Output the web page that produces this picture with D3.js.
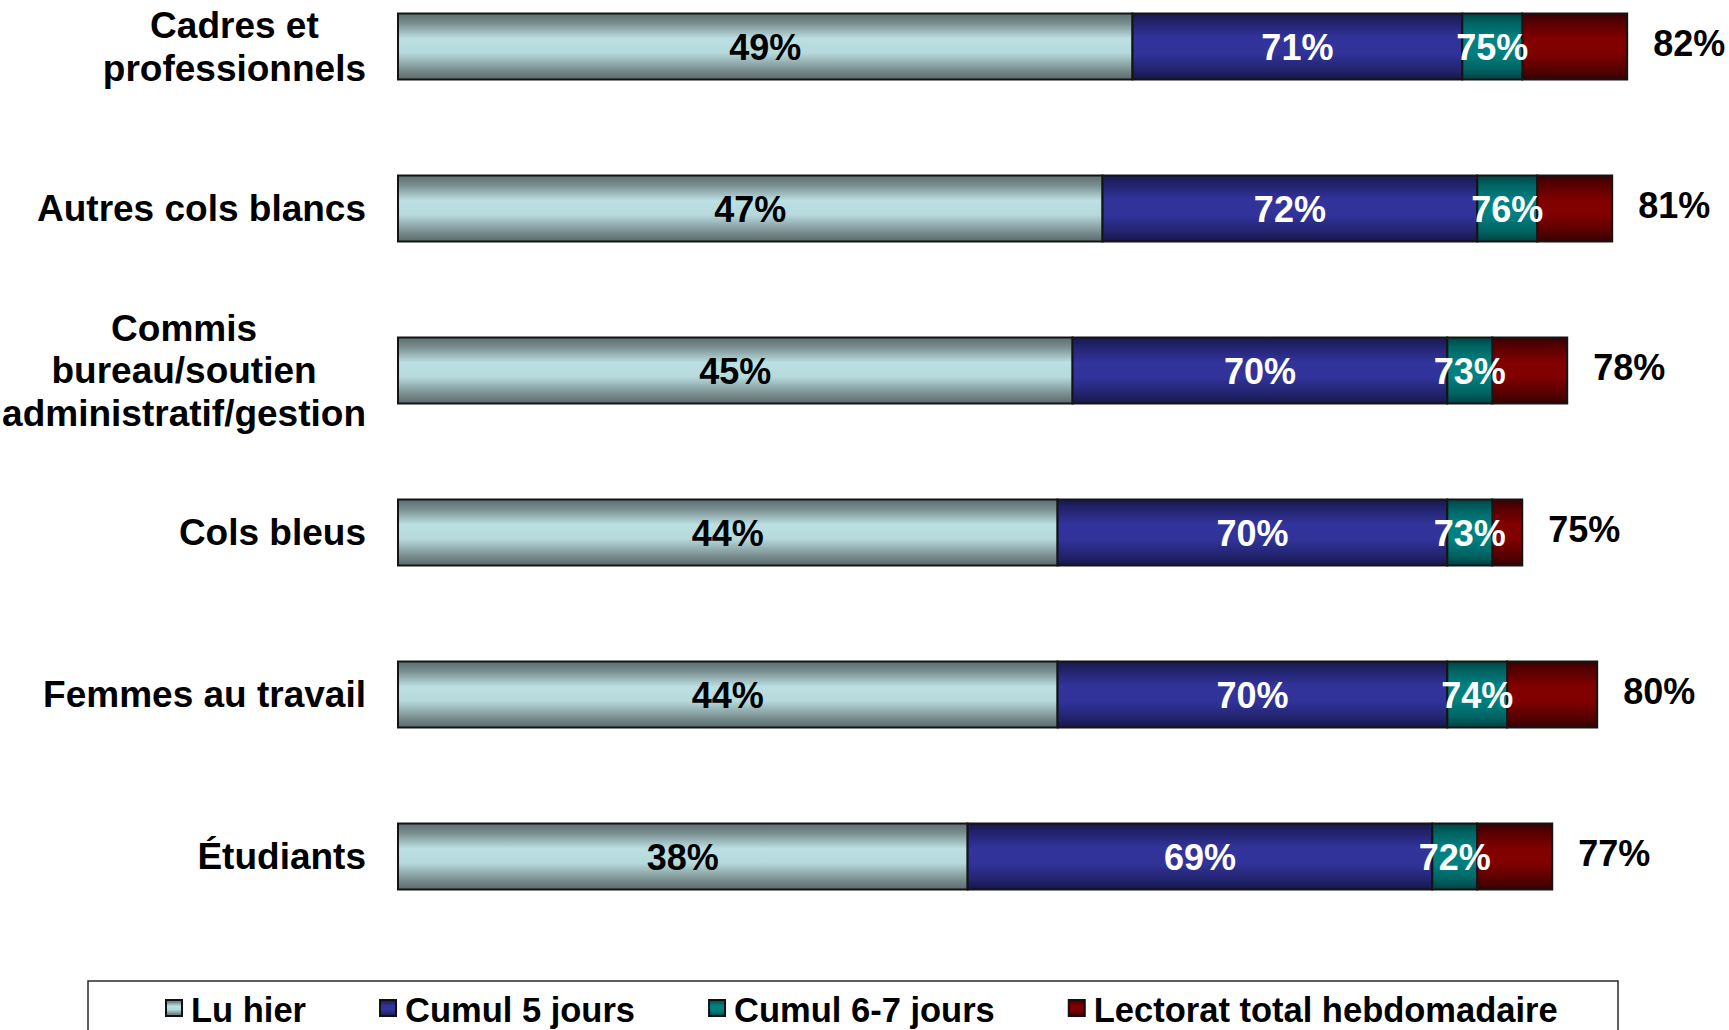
<!DOCTYPE html>
<html>
<head>
<meta charset="utf-8">
<script src="https://cdn.jsdelivr.net/npm/d3@7"></script>
<style>
  html, body { margin: 0; padding: 0; background: #ffffff; }
  svg { display: block; }
  text { font-family: "Liberation Sans", Arial, sans-serif; font-weight: bold; }
</style>
</head>
<body>
<svg id="chart" width="1729" height="1030"></svg>
<script>
// Reader profile by occupation: cumulative readership shares (%)
const categories = [
  "Cadres et\nprofessionnels",
  "Autres cols blancs",
  "Commis\nbureau/soutien\nadministratif/gestion",
  "Cols bleus",
  "Femmes au travail",
  "Étudiants"
];
const seriesNames = ["Lu hier", "Cumul 5 jours", "Cumul 6-7 jours", "Lectorat total hebdomadaire"];
const luHier    = [49, 47, 45, 44, 44, 38];
const cumul5    = [71, 72, 70, 70, 70, 69];
const cumul67   = [75, 76, 73, 73, 74, 72];
const lectorat  = [82, 81, 78, 75, 80, 77];

const seriesValues = [luHier, cumul5, cumul67, lectorat];

// Vertical "cylinder" shading for each series: edge -> centre -> edge
const shades = [
  ["#5c6e6f", "#7a8f90", "#bbdfe2", "#b6d9dc", "#7b8f90", "#5a6a6b"],
  ["#18184e", "#23246f", "#32349c", "#31339a", "#23246e", "#16164a"],
  ["#004646", "#006464", "#008282", "#008080", "#006262", "#004242"],
  ["#380000", "#5a0000", "#820000", "#800000", "#580000", "#360000"]
];
const labelColors = ["#000000", "#ffffff", "#ffffff", "#000000"];

const svg = d3.select("#chart");
const defs = svg.append("defs");
shades.forEach((s, i) => {
  const g = defs.append("linearGradient")
    .attr("id", "grad" + i)
    .attr("x1", 0).attr("y1", 0).attr("x2", 0).attr("y2", 1);
  [0, 0.15, 0.38, 0.6, 0.85, 1].forEach((off, k) => {
    g.append("stop").attr("offset", off).attr("stop-color", s[k]);
  });
});

const x = d3.scaleLinear().domain([0, 100]).range([398, 1897]);
const y = d3.scaleBand()
  .domain(categories)
  .range([-34.5, 937.5])
  .paddingInner(0.5926)
  .paddingOuter(0.2963);

// Build stacked segments from cumulative values
const rows = categories.map((cat, r) => {
  const segs = seriesValues.map((vals, s) => ({
    series: s,
    start: s === 0 ? 0 : seriesValues[s - 1][r],
    end: vals[r]
  }));
  return { cat, segs };
});

const rowG = svg.append("g").selectAll("g.row")
  .data(rows)
  .join("g")
  .attr("class", "row")
  .attr("transform", d => `translate(0,${y(d.cat)})`);

rowG.selectAll("rect")
  .data(d => d.segs)
  .join("rect")
  .attr("x", d => x(d.start))
  .attr("y", 0)
  .attr("width", d => x(d.end) - x(d.start))
  .attr("height", y.bandwidth())
  .attr("fill", d => `url(#grad${d.series})`)
  .attr("stroke", "#141414")
  .attr("stroke-width", 2);

// Value labels: inside the first three segments, outside for the total
const bw = y.bandwidth();
rowG.selectAll("text.val")
  .data(d => d.segs)
  .join("text")
  .attr("class", "val")
  .attr("x", d => d.series === 3 ? x(d.end) + 26 : (x(d.start) + x(d.end)) / 2)
  .attr("y", d => d.series === 3 ? bw / 2 + 10 : bw / 2 + 14)
  .attr("text-anchor", d => d.series === 3 ? "start" : "middle")
  .attr("font-size", 36)
  .attr("fill", d => labelColors[d.series])
  .text(d => d.end + "%");

// Category labels: lines centred within a block right-aligned to the axis
const labelRight = x(0) - 32;
const lineGap = 42.5;
rowG.each(function(d) {
  const lines = d.cat.split("\n");
  const g = d3.select(this).append("g");
  const texts = g.selectAll("text.cat")
    .data(lines)
    .join("text")
    .attr("class", "cat")
    .attr("font-size", 37)
    .attr("fill", "#000")
    .attr("text-anchor", "middle")
    .attr("y", (t, i) => bw / 2 + 13 + (i - (lines.length - 1) / 2) * lineGap)
    .text(t => t);
  let maxW = 0;
  texts.each(function() { maxW = Math.max(maxW, this.getComputedTextLength()); });
  texts.attr("x", labelRight - maxW / 2);
});

// Legend
const legend = svg.append("g");
legend.append("rect")
  .attr("x", 88).attr("y", 981)
  .attr("width", 1530).attr("height", 80)
  .attr("fill", "#ffffff")
  .attr("stroke", "#2a2a2a")
  .attr("stroke-width", 1.5);

let lx = 166;
seriesNames.forEach((name, i) => {
  legend.append("rect")
    .attr("x", lx).attr("y", 1000)
    .attr("width", 16).attr("height", 16)
    .attr("fill", `url(#grad${i})`)
    .attr("stroke", "#111")
    .attr("stroke-width", 2);
  const t = legend.append("text")
    .attr("x", lx + 25).attr("y", 1022)
    .attr("font-size", 34.5)
    .attr("fill", "#000")
    .text(name);
  lx += 25 + t.node().getComputedTextLength() + 74;
});
</script>
</body>
</html>
